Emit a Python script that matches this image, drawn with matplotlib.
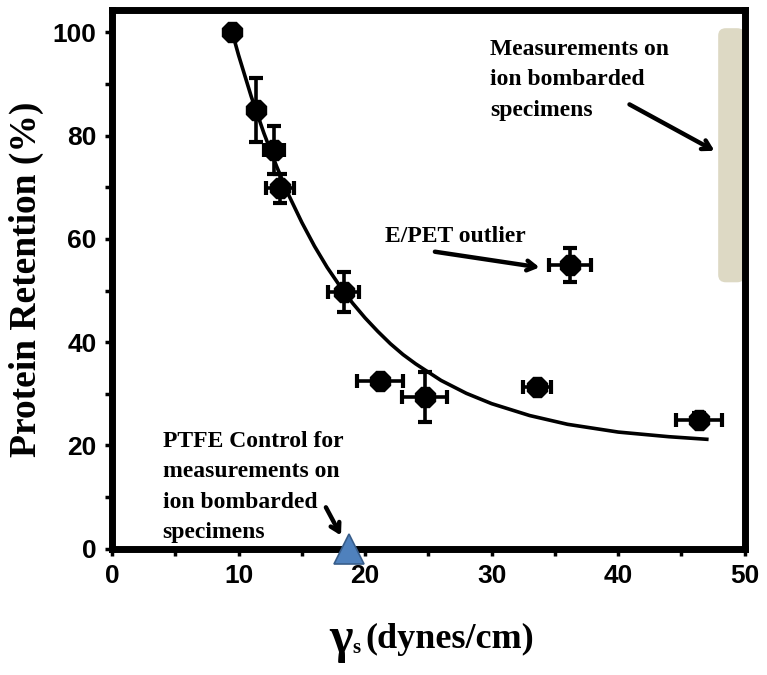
import numpy as np
import matplotlib
matplotlib.use('Agg')
import matplotlib.pyplot as plt
from matplotlib.patches import FancyBboxPatch

# data
gamma_s = [9.5, 11.4, 12.8, 13.3, 18.3, 21.2, 24.7, 33.6, 36.2, 46.4]
retention = [100, 85, 77.2, 69.8, 49.7, 32.5, 29.4, 31.3, 54.9, 25.0]
gamma_err = [0, 0.4, 0.8, 1.1, 1.2, 1.8, 1.8, 1.1, 1.65, 1.8]
retention_err = [0, 6.2, 4.6, 2.8, 3.8, 1.0, 4.9, 0.8, 3.3, 1.2]

# trend line, read point by point
fit_x = [9.5, 10, 11, 12, 13, 14, 15, 16, 17, 18, 19, 20, 21, 22, 23, 24, 26, 28, 30,
         33, 36, 40, 44, 47]
fit_y = [100, 95.6, 87.6, 80.5, 74.1, 68.3, 63.2, 58.6, 54.5, 50.9, 47.6, 44.7, 42.1,
         39.7, 37.6, 35.8, 32.6, 30.1, 28.1, 25.8, 24.1, 22.6, 21.7, 21.2]

# PTFE control
ptfe_x = [18.7]
ptfe_y = [0]

# range of ion bombarded measurements
ion_x = (47.9, 50)
ion_y = (51.6, 100.8)

serif = 'Liberation Serif'

fig = plt.figure(figsize=(7.67, 6.75), dpi=100)
ax = fig.add_axes([0.146, 0.187, 0.825, 0.798])

ax.add_patch(FancyBboxPatch((ion_x[0], ion_y[0]), ion_x[1] - ion_x[0], ion_y[1] - ion_y[0],
                            boxstyle='round,pad=0,rounding_size=0.6', facecolor='#ddd9c4',
                            edgecolor='none', mutation_aspect=2.4, zorder=1))

ax.plot(fit_x, fit_y, color='black', lw=2.6, zorder=2)
ax.errorbar(gamma_s, retention, xerr=gamma_err, yerr=retention_err, fmt='8', color='black',
            markersize=15.5, elinewidth=2.6, capsize=5, capthick=3, zorder=3)
ax.plot(ptfe_x, ptfe_y, marker='^', markersize=21, color='#4f81bd',
        markeredgecolor='#385d8a', markeredgewidth=1.2, clip_on=False, zorder=5)

ax.set_xlim(0, 50)
ax.set_ylim(0, 104.3)
ax.set_xticks(np.arange(0, 51, 10))
ax.set_xticks(np.arange(0, 51, 5), minor=True)
ax.set_yticks(np.arange(0, 101, 20))
ax.set_yticks(np.arange(0, 101, 10), minor=True)

for s in ax.spines.values():
    s.set_linewidth(5)
ax.tick_params(which='both', direction='out', length=5, width=2.5, pad=6)
for lab in ax.get_xticklabels() + ax.get_yticklabels():
    lab.set_fontsize(19)
    lab.set_fontweight('bold')
    lab.set_fontfamily('Liberation Sans')

ax.set_ylabel('Protein Retention (%)', fontsize=27, fontweight='bold', family=serif, labelpad=6)

# x label in pieces: big gamma, small s, units
fig.text(0.444, 0.052, 'γ', fontsize=36, fontweight='bold', family=serif, ha='center', va='center')
fig.text(0.459, 0.040, 's', fontsize=15, fontweight='bold', family=serif, ha='left', va='center')
fig.text(0.477, 0.052, '(dynes/cm)', fontsize=26, fontweight='bold', family=serif, ha='left', va='center')

arrow = dict(arrowstyle='->,head_length=0.6,head_width=0.35', lw=3.2, color='black')
ax.annotate('', xy=(34.0, 54.4), xytext=(25.3, 57.6), arrowprops=arrow)
ax.annotate('', xy=(47.8, 76.8), xytext=(40.7, 86.3), arrowprops=arrow)
ax.annotate('', xy=(18.2, 2.1), xytext=(16.8, 8.5), arrowprops=arrow)

ax.text(21.6, 60.5, 'E/PET outlier', fontsize=17, fontweight='bold', family=serif,
        ha='left', va='center')
ax.text(29.9, 98.8, 'Measurements on\nion bombarded\nspecimens', fontsize=17,
        fontweight='bold', family=serif, ha='left', va='top', linespacing=1.6)
ax.text(4.0, 22.9, 'PTFE Control for\nmeasurements on\nion bombarded\nspecimens', fontsize=17,
        fontweight='bold', family=serif, ha='left', va='top', linespacing=1.6)

fig.savefig('out.png', dpi=100)
